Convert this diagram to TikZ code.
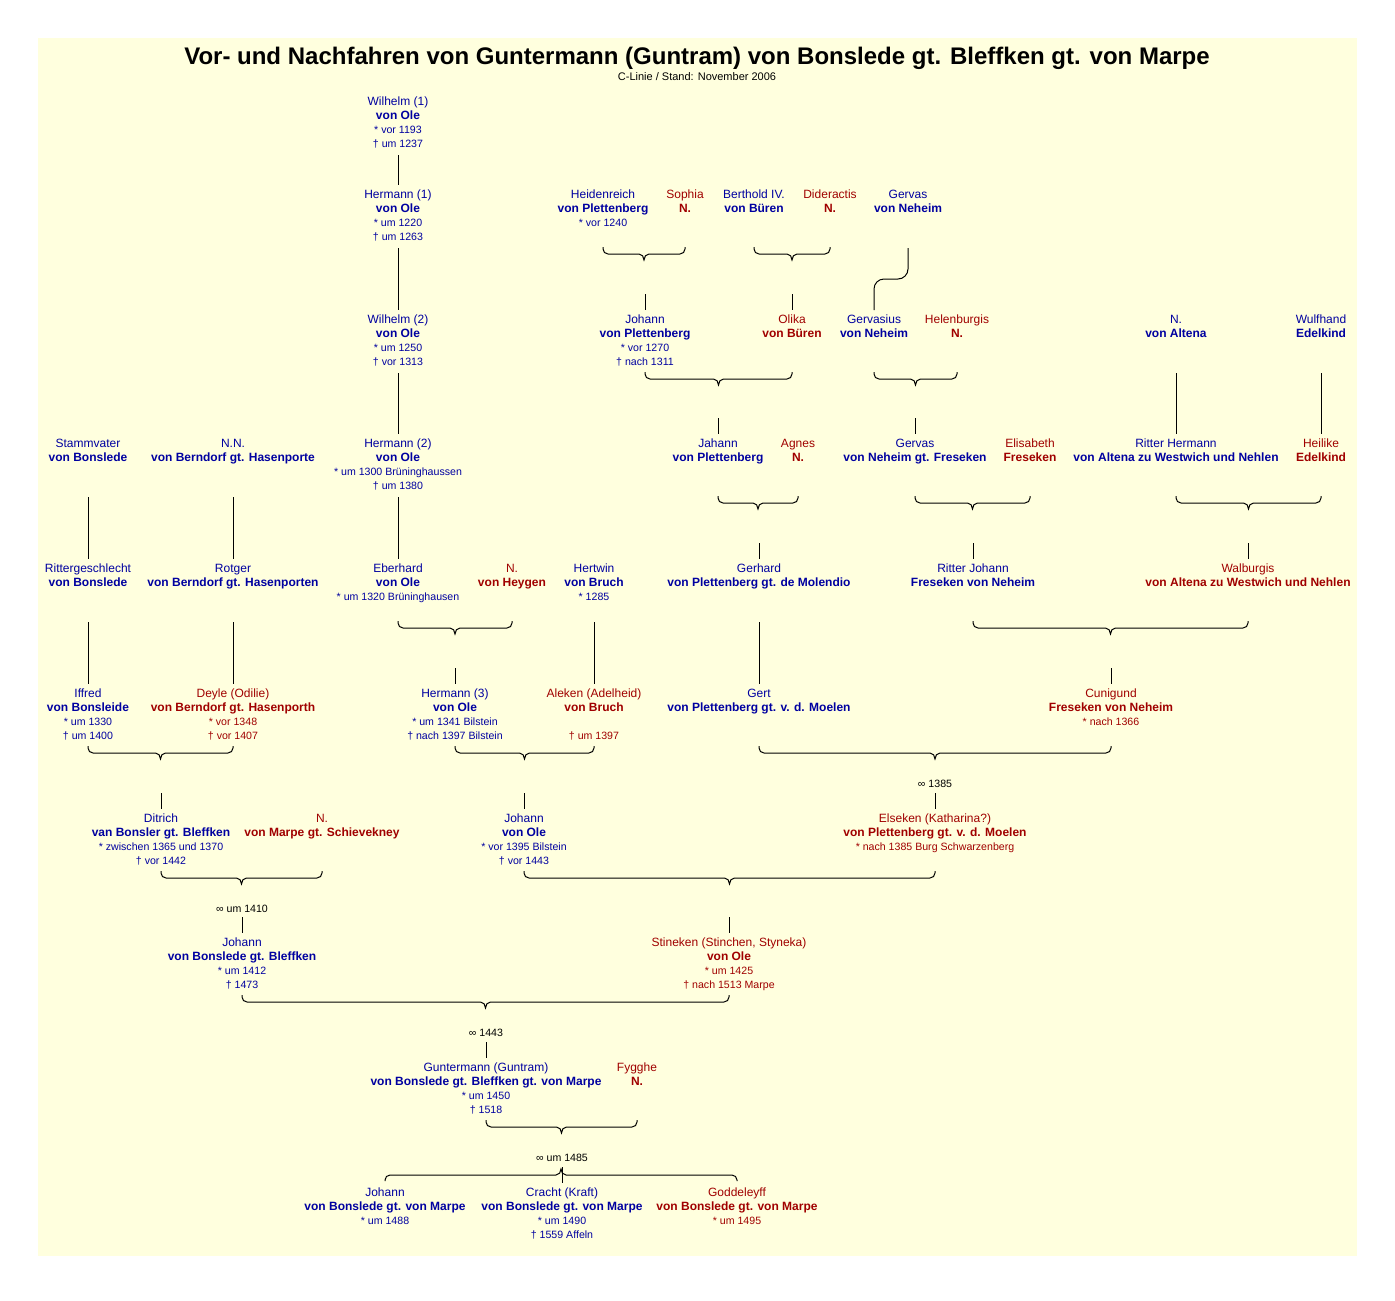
\documentclass[tikz,border=0pt]{standalone}
\usepackage{fontspec}
\setmainfont{Liberation Sans}
\usetikzlibrary{calc}
\definecolor{mblue}{RGB}{0,0,160}
\definecolor{fred}{RGB}{160,0,0}
\definecolor{bgyellow}{RGB}{255,255,222}
\tikzset{
  person/.style={inner sep=0pt, anchor=base, font=\fontsize{12}{14}\selectfont},
  male/.style={text=mblue},
  fem/.style={text=fred},
  link/.style={draw=black, line width=1pt},
  famb/.style={link, to path={let \p1=(\tikztostart), \p2=(\tikztotarget), \n1={0.5*(\x1+\x2)} in
     (\p1) -- ++(0,2) to[out=-90,in=180] ++(5,5) -- ({\n1-5pt},{\y1-7pt})
     to[out=0,in=90] ({\n1},{\y1-13pt}) to[out=90,in=180] ({\n1+5pt},{\y1-7pt})
     -- ({\x2-5pt},{\y1-7pt}) to[out=0,in=-90] ({\x2},{\y1-2pt}) -- (\p2)}},
  kidsb/.style={link, to path={let \p1=(\tikztostart), \p2=(\tikztotarget), \n1={0.5*(\x1+\x2)} in
     (\p1) -- ++(0,-1) to[out=90,in=180] ++(5,-5) -- ({\n1-5pt},{\y1+6pt})
     to[out=0,in=-90] ({\n1},{\y1+12pt}) to[out=-90,in=180] ({\n1+5pt},{\y1+6pt})
     -- ({\x2-5pt},{\y1+6pt}) to[out=0,in=90] ({\x2},{\y1+1pt}) -- (\p2)}},
  marr/.style={anchor=base, inner sep=0pt, font=\fontsize{10.6}{13}\selectfont, text=black},
}
\newcommand\dl[1]{{\fontsize{10.6}{14}\selectfont #1}}
\newcommand\pers[5]{%
  \node[person,#4] (#1) at (#2,#3+4.5) {\begin{tabular}[t]{@{}c@{}}#5\end{tabular}};
  \coordinate (#1-u) at (#2,#3-9);
  \coordinate (#1-p) at (#2,#3-25);
  \coordinate (#1-t) at (#2,#3-11);
  \coordinate (#1-d) at (#2,#3+54);
  \coordinate (#1-b) at (#2,#3+53);
}
\begin{document}
\begin{tikzpicture}[x=1pt,y=-1pt]
\useasboundingbox (0,0) rectangle (1395,1301);
\fill[white] (0,0) rectangle (1395,1301);
\fill[bgyellow] (38,38) rectangle (1357,1256);

\node[anchor=base, inner sep=0pt, font=\bfseries\fontsize{24}{28}\selectfont] (title) at (697,64)
  {Vor- und Nachfahren von Guntermann (Guntram) von Bonslede gt. Bleffken gt. von Marpe};
\node[anchor=base, inner sep=0pt, font=\fontsize{11}{13}\selectfont] (sub) at (697,80.5)
  {C-Linie / Stand: November 2006};

% Row A
\pers{wil1}{398}{101}{male}{Wilhelm (1)\\\textbf{von Ole}\\\dl{* vor 1193}\\\dl{† um 1237}}
% Row B
\pers{her1}{398}{194}{male}{Hermann (1)\\\textbf{von Ole}\\\dl{* um 1220}\\\dl{† um 1263}}
\pers{hei}{603}{194}{male}{Heidenreich\\\textbf{von Plettenberg}\\\dl{* vor 1240}}
\pers{sop}{685}{194}{fem}{Sophia\\\textbf{N.}}
\pers{ber}{754}{194}{male}{Berthold IV.\\\textbf{von Büren}}
\pers{did}{830}{194}{fem}{Dideractis\\\textbf{N.}}
\pers{gvB}{908}{194}{male}{Gervas\\\textbf{von Neheim}}
% Row C
\pers{wil2}{398}{319}{male}{Wilhelm (2)\\\textbf{von Ole}\\\dl{* um 1250}\\\dl{† vor 1313}}
\pers{joh1}{645}{319}{male}{Johann\\\textbf{von Plettenberg}\\\dl{* vor 1270}\\\dl{† nach 1311}}
\pers{oli}{792}{319}{fem}{Olika\\\textbf{von Büren}}
\pers{gvs}{874}{319}{male}{Gervasius\\\textbf{von Neheim}}
\pers{hel}{957}{319}{fem}{Helenburgis\\\textbf{N.}}
\pers{nalt}{1176}{319}{male}{N.\\\textbf{von Altena}}
\pers{wul}{1321}{319}{male}{Wulfhand\\\textbf{Edelkind}}
% Row D
\pers{sta}{88}{443}{male}{Stammvater\\\textbf{von Bonslede}}
\pers{nn}{233}{443}{male}{N.N.\\\textbf{von Berndorf gt. Hasenporte}}
\pers{her2}{398}{443}{male}{Hermann (2)\\\textbf{von Ole}\\\dl{* um 1300 Brüninghaussen}\\\dl{† um 1380}}
\pers{jah}{718}{443}{male}{Jahann\\\textbf{von Plettenberg}}
\pers{agn}{798}{443}{fem}{Agnes\\\textbf{N.}}
\pers{gvD}{915}{443}{male}{Gervas\\\textbf{von Neheim gt. Freseken}}
\pers{eli}{1030}{443}{fem}{Elisabeth\\\textbf{Freseken}}
\pers{rhe}{1176}{443}{male}{Ritter Hermann\\\textbf{von Altena zu Westwich und Nehlen}}
\pers{heil}{1321}{443}{fem}{Heilike\\\textbf{Edelkind}}
% Row E
\pers{rit}{88}{568}{male}{Rittergeschlecht\\\textbf{von Bonslede}}
\pers{rot}{233}{568}{male}{Rotger\\\textbf{von Berndorf gt. Hasenporten}}
\pers{ebe}{398}{568}{male}{Eberhard\\\textbf{von Ole}\\\dl{* um 1320 Brüninghausen}}
\pers{nhey}{512}{568}{fem}{N.\\\textbf{von Heygen}}
\pers{hert}{594}{568}{male}{Hertwin\\\textbf{von Bruch}\\\dl{* 1285}}
\pers{gerh}{759}{568}{male}{Gerhard\\\textbf{von Plettenberg gt. de Molendio}}
\pers{rjo}{973}{568}{male}{Ritter Johann\\\textbf{Freseken von Neheim}}
\pers{wal}{1248}{568}{fem}{Walburgis\\\textbf{von Altena zu Westwich und Nehlen}}
% Row F
\pers{iff}{88}{693}{male}{Iffred\\\textbf{von Bonsleide}\\\dl{* um 1330}\\\dl{† um 1400}}
\pers{dey}{233}{693}{fem}{Deyle (Odilie)\\\textbf{von Berndorf gt. Hasenporth}\\\dl{* vor 1348}\\\dl{† vor 1407}}
\pers{her3}{455}{693}{male}{Hermann (3)\\\textbf{von Ole}\\\dl{* um 1341 Bilstein}\\\dl{† nach 1397 Bilstein}}
\pers{ale}{594}{693}{fem}{Aleken (Adelheid)\\\textbf{von Bruch}\\\mbox{}\\\dl{† um 1397}}
\pers{gert}{759}{693}{male}{Gert\\\textbf{von Plettenberg gt. v. d. Moelen}}
\pers{cun}{1111}{693}{fem}{Cunigund\\\textbf{Freseken von Neheim}\\\dl{* nach 1366}}
% Row G
\pers{dit}{161}{818}{male}{Ditrich\\\textbf{van Bonsler gt. Bleffken}\\\dl{* zwischen 1365 und 1370}\\\dl{† vor 1442}}
\pers{nmar}{322}{818}{fem}{N.\\\textbf{von Marpe gt. Schievekney}}
\pers{joh2}{524}{818}{male}{Johann\\\textbf{von Ole}\\\dl{* vor 1395 Bilstein}\\\dl{† vor 1443}}
\pers{els}{935}{818}{fem}{Elseken (Katharina?)\\\textbf{von Plettenberg gt. v. d. Moelen}\\\dl{* nach 1385 Burg Schwarzenberg}}
% Row H
\pers{joh3}{242}{942}{male}{Johann\\\textbf{von Bonslede gt. Bleffken}\\\dl{* um 1412}\\\dl{† 1473}}
\pers{sti}{729}{942}{fem}{Stineken (Stinchen, Styneka)\\\textbf{von Ole}\\\dl{* um 1425}\\\dl{† nach 1513 Marpe}}
% Row I
\pers{gun}{486}{1067}{male}{Guntermann (Guntram)\\\textbf{von Bonslede gt. Bleffken gt. von Marpe}\\\dl{* um 1450}\\\dl{† 1518}}
\pers{fyg}{637}{1067}{fem}{Fygghe\\\textbf{N.}}
% Row J
\pers{joh4}{385}{1192}{male}{Johann\\\textbf{von Bonslede gt. von Marpe}\\\dl{* um 1488}}
\pers{cra}{562}{1192}{male}{Cracht (Kraft)\\\textbf{von Bonslede gt. von Marpe}\\\dl{* um 1490}\\\dl{† 1559 Affeln}}
\pers{god}{737}{1192}{fem}{Goddeleyff\\\textbf{von Bonslede gt. von Marpe}\\\dl{* um 1495}}

% marriage labels
\node[marr] (m1385) at (935,787) {∞ 1385};
\node[marr] (m1410) at (242,912) {∞ um 1410};
\node[marr] (m1443) at (486,1036) {∞ 1443};
\node[marr] (m1485) at (562,1161) {∞ um 1485};

% direct descent
\draw[link] (wil1-d) -- (her1-u);
\draw[link] (her1-d) -- (wil2-u);
\draw[link] (wil2-d) -- (her2-u);
\draw[link] (her2-d) -- (ebe-u);
\draw[link] (sta-d) -- (rit-u);
\draw[link] (nn-d) -- (rot-u);
\draw[link] (rit-d) -- (iff-u);
\draw[link] (rot-d) -- (dey-u);
\draw[link] (hert-d) -- (ale-u);
\draw[link] (gerh-d) -- (gert-u);
\draw[link] (nalt-d) -- (rhe-u);
\draw[link] (wul-d) -- (heil-u);
\draw[link, rounded corners=10pt] (gvB-d) -- ++(0,31) -| (gvs-u);

% couples and their children
\draw[famb] (hei-b) to (sop-b);   \draw[link] (joh1-p) -- (joh1-u);
\draw[famb] (ber-b) to (did-b);   \draw[link] (oli-p) -- (oli-u);
\draw[famb] (joh1-b) to (oli-b);  \draw[link] (jah-p) -- (jah-u);
\draw[famb] (gvs-b) to (hel-b);   \draw[link] (gvD-p) -- (gvD-u);
\draw[famb] (jah-b) to (agn-b);   \draw[link] (gerh-p) -- (gerh-u);
\draw[famb] (gvD-b) to (eli-b);   \draw[link] (rjo-p) -- (rjo-u);
\draw[famb] (rhe-b) to (heil-b);  \draw[link] (wal-p) -- (wal-u);
\draw[famb] (ebe-b) to (nhey-b);  \draw[link] (her3-p) -- (her3-u);
\draw[famb] (rjo-b) to (wal-b);   \draw[link] (cun-p) -- (cun-u);
\draw[famb] (iff-b) to (dey-b);   \draw[link] (dit-p) -- (dit-u);
\draw[famb] (her3-b) to (ale-b);  \draw[link] (joh2-p) -- (joh2-u);
\draw[famb] (gert-b) to (cun-b);  \draw[link] (els-p) -- (els-u);
\draw[famb] (dit-b) to (nmar-b);  \draw[link] (joh3-p) -- (joh3-u);
\draw[famb] (joh2-b) to (els-b);  \draw[link] (sti-p) -- (sti-u);
\draw[famb] (joh3-b) to (sti-b);  \draw[link] (gun-p) -- (gun-u);
\draw[famb] (gun-b) to (fyg-b);
\draw[kidsb] (joh4-t) to (god-t);
\draw[link] (cra-p) -- (cra-u);
\end{tikzpicture}
\end{document}
